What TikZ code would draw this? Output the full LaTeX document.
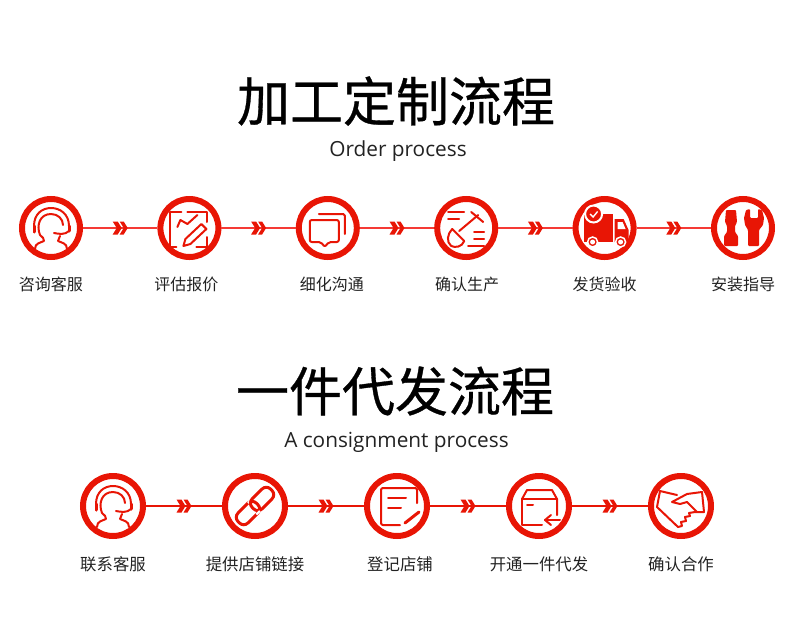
\documentclass[tikz,border=0pt]{standalone}
\usepackage{fontspec}
\setmainfont{Noto Sans CJK SC}
\newfontfamily\titlefont[FakeBold=0.6]{Noto Sans CJK SC}
\newfontfamily\latinfont{Open Sans}
\usetikzlibrary{positioning,calc}
\definecolor{ringred}{HTML}{E81505}
\definecolor{linkred}{HTML}{F53A35}
\definecolor{linkdark}{HTML}{E81505}
\definecolor{inkgray}{HTML}{222222}

\begin{document}
\begin{tikzpicture}[
    x=1pt, y=-1pt,
    stage/.style={circle, draw=ringred, line width=6pt, minimum size=58pt, inner sep=0pt},
    bigstage/.style={stage, minimum size=60pt},
    caption/.style={text=inkgray, font=\fontsize{16}{16}\selectfont, inner sep=0pt},
    bigcaption/.style={caption, font=\fontsize{16.4}{16}\selectfont},
    headline/.style={text=black, font=\titlefont\fontsize{53}{53}\selectfont, inner sep=0pt},
    subline/.style={text=inkgray, font=\latinfont\fontsize{20.8}{20}\selectfont, inner sep=0pt},
    link/.style={draw=linkred, line width=1.5pt},
    darklink/.style={draw=linkdark, line width=1.2pt},
    ico/.style={draw=ringred, line width=2pt, line cap=round, line join=round},
    chev/.pic={
        \fill[ringred] (-7.5,-6.5) -- (-2.5,-6.5) -- (1.5,0) -- (-2.5,6.5) -- (-7.5,6.5) -- (-3.5,0) -- cycle;
        \fill[ringred] (-0.5,-6.5) -- (3.5,-6.5) -- (7.5,0) -- (3.5,6.5) -- (-0.5,6.5) -- (3.5,0) -- cycle;
    },
    headset/.pic={
        \draw[ico] (-17,4) -- (-17,-2) .. controls (-17,-14) and (-9,-20) .. (0,-20) .. controls (9,-20) and (18,-14) .. (18,-2) -- (18,3) .. controls (14,7) and (8,6) .. (3,5);
        \draw[ico] (-11,7) .. controls (-15,-3) and (-11,-14) .. (0,-14) .. controls (7,-14) and (12,-9) .. (12,-3);
        \draw[ico] (-11,7) .. controls (-8,10) and (-7,10) .. (-7,13) .. controls (-11,15) and (-16,15) .. (-16,21);
        \draw[ico] (9,8) -- (7,13) .. controls (11,15) and (16,15) .. (16,21);
        \draw[ico, line width=3pt] (-17,-2) -- (-17,4);
        \draw[ico, line width=3pt] (18,-2) -- (18,3);
    },
    chart/.pic={
        \draw[ico] (-8,-16) -- (-19,-16) -- (-19,19) -- (-13,19);
        \draw[ico] (-2,-16) -- (18,-16) -- (18,-6);
        \draw[ico] (7,19) -- (18,19) -- (18,9);
        \draw[ico] (-12,-1) -- (-9,-8) -- (-2,-4) -- (8,-13);
        \draw[ico] (-6,18) -- (-4,11) -- (12,-4) -- (17,1) -- (1,16) -- cycle;
    },
    chat/.pic={
        \draw[ico, rounded corners=1.5pt] (-9,-14) -- (17,-14) -- (17,6);
        \draw[ico, rounded corners=2pt] (-18,-8) -- (11,-8) -- (11,14) -- (1,14) -- (-3,19) -- (-7,14) -- (-18,14) -- cycle;
    },
    shovel/.pic={
        \draw[ico] (-18,-16) -- (-2,-16);
        \draw[ico] (-18,-9) -- (-7,-9);
        \draw[ico] (12,-13) -- (-7,3);
        \draw[ico] (5,-16) -- (17,-6);
        \draw[ico] (-14,1) -- (-2,13) .. controls (-4,19) and (-11,20) .. (-15,18) .. controls (-20,14) and (-19,6) .. (-14,1) -- cycle;
        \draw[ico] (8,4) -- (18,4);
        \draw[ico] (8,11) -- (18,11);
        \draw[ico] (2,18) -- (18,18);
    },
    truck/.pic={
        \fill[ringred] (-21,-14) -- (8,-14) -- (8,14) -- (-21,14) -- cycle;
        \fill[ringred] (10,-9) -- (19,-9) -- (24,2) -- (24,14) -- (10,14) -- cycle;
        \fill[white] (13,-6) -- (18,-6) -- (21,1) -- (13,1) -- cycle;
        \draw[white, line width=2pt, fill=ringred] (-11,-14) circle (8.5pt);
        \draw[white, line width=1.4pt] (-14.5,-14) -- (-11.5,-11) -- (-7,-16.5);
        \draw[white, line width=1.5pt, fill=ringred] (-12,14) circle (5pt);
        \draw[white, line width=1.5pt, fill=ringred] (16,14) circle (5pt);
        \fill[white] (-12,14) circle (2.5pt);
        \fill[white] (16,14) circle (2.5pt);
    },
    tools/.pic={
        \fill[ringred, rounded corners=1pt] (-17,-18) -- (-7,-18) -- (-6,-6) -- (-8,-2) -- (-8,4) -- (-5,8) -- (-5,18) -- (-19,18) -- (-19,8) -- (-16,4) -- (-16,-2) -- (-18,-6) -- cycle;
        \fill[ringred, rounded corners=1pt] (3,-18) -- (7,-19) -- (7,-10) -- (15,-10) -- (15,-19) -- (19,-18) -- (21,-10) -- (20,-3) -- (16,2) -- (16,18) -- (5,18) -- (5,2) -- (2,-3) -- (1,-10) -- cycle;
    },
    ring/.style={draw=ringred, line width=3pt, rounded corners=6pt},
    ringcut/.style={draw=white, line width=2pt},
    chain/.pic={
        \draw[ring, rotate=45] (-23,-7) rectangle (3,7);
        \draw[ringcut, rotate=45] (-3,-7) -- (1,-7);
        \draw[ring, rotate=45] (-3,-7) rectangle (23,7);
        \draw[ringcut, rotate=45] (-5,7) -- (0,7);
    },
    notepad/.pic={
        \draw[ico, rounded corners=2pt] (20,-3) -- (20,-18) -- (-16,-18) -- (-16,19) -- (3,19);
        \draw[ico] (-9,-8) -- (9,-8);
        \draw[ico] (-9,2) -- (4,2);
        \draw[ico, line width=3pt] (8,17) -- (22,6);
    },
    parcel/.pic={
        \draw[ico] (-17,-7) -- (-17,19) -- (3,19);
        \draw[ico] (-17,-7) -- (-12,-16) -- (13,-16) -- (18,-7) -- (18,9);
        \draw[ico] (-17,-7) -- (18,-7);
        \draw[ico] (-12,-1) -- (-6,-1);
        \draw[ico] (21,14) -- (6,14);
        \draw[ico] (12,9) -- (6,14) -- (12,19);
    },
    handshake/.pic={
        \draw[ico] (-4,-11) -- (-21,-15) -- (-24,1) -- (-3,21) -- (1,20) -- (0,16) -- (5,15) -- (4,11) -- (9,10) -- (8,7) -- (14,6) -- (23,6) -- (21,-14) -- (6,-12) -- (-9,-4) -- (-1,-2) -- (6,-4) -- (16,6);
    }
]
    \useasboundingbox (0,0) rectangle (790,624);

    \node[headline] (title1) at (396,101) {加工定制流程};
    \node[subline, below=15pt of title1, xshift=2pt] (sub1) {Order process};

    \node[stage] (ask1) at (51,228) {};
    \node[stage, right=74.4pt of ask1] (assess) {};
    \node[stage, right=74.4pt of assess] (refine) {};
    \node[stage, right=74.4pt of refine] (confirm1) {};
    \node[stage, right=74.4pt of confirm1] (ship) {};
    \node[stage, right=74.4pt of ship] (install) {};

    \node[caption, below=17pt of ask1] (ask1txt) {咨询客服};
    \node[caption, below=17pt of assess, xshift=-3pt] (assesstxt) {评估报价};
    \node[caption, below=17pt of refine, xshift=4pt] (refinetxt) {细化沟通};
    \node[caption, below=17pt of confirm1, xshift=1pt] (confirm1txt) {确认生产};
    \node[caption, below=17pt of ship] (shiptxt) {发货验收};
    \node[caption, below=17pt of install] (installtxt) {安装指导};

    \draw[link] (ask1) -- (assess);
    \draw[link] (assess) -- (refine);
    \draw[link] (refine) -- (confirm1);
    \draw[link] (confirm1) -- (ship);
    \draw[link] (ship) -- (install);

    \pic at ($(ask1)!.5!(assess)$) {chev};
    \pic at ($(assess)!.5!(refine)$) {chev};
    \pic at ($(refine)!.5!(confirm1)$) {chev};
    \pic at ($(confirm1)!.5!(ship)$) {chev};
    \pic at ($(ship)!.5!(install)$) {chev};

    \pic at (ask1) {headset};
    \pic at (assess) {chart};
    \pic at (refine) {chat};
    \pic at (confirm1) {shovel};
    \pic at (ship) {truck};
    \pic at (install) {tools};

    \node[headline] (title2) at (395,391) {一件代发流程};
    \node[subline, below=16pt of title2, xshift=1.5pt] (sub2) {A consignment process};

    \node[bigstage] (ask2) at (113,506) {};
    \node[bigstage, right=76pt of ask2] (shoplink) {};
    \node[bigstage, right=76pt of shoplink] (register) {};
    \node[bigstage, right=76pt of register] (open) {};
    \node[bigstage, right=76pt of open] (confirm2) {};

    \node[bigcaption, below=17.5pt of ask2] (ask2txt) {联系客服};
    \node[bigcaption, below=17.5pt of shoplink] (shoplinktxt) {提供店铺链接};
    \node[bigcaption, below=17.5pt of register, xshift=3pt] (registertxt) {登记店铺};
    \node[bigcaption, below=17.5pt of open] (opentxt) {开通一件代发};
    \node[bigcaption, below=17.5pt of confirm2] (confirm2txt) {确认合作};

    \draw[darklink] (ask2) -- (shoplink);
    \draw[darklink] (shoplink) -- (register);
    \draw[darklink] (register) -- (open);
    \draw[darklink] (open) -- (confirm2);

    \pic at ($(ask2)!.5!(shoplink)$) {chev};
    \pic at ($(shoplink)!.5!(register)$) {chev};
    \pic at ($(register)!.5!(open)$) {chev};
    \pic at ($(open)!.5!(confirm2)$) {chev};

    \pic at (ask2) {headset};
    \pic at (shoplink) {chain};
    \pic at (register) {notepad};
    \pic at (open) {parcel};
    \pic at (confirm2) {handshake};
\end{tikzpicture}
\end{document}
